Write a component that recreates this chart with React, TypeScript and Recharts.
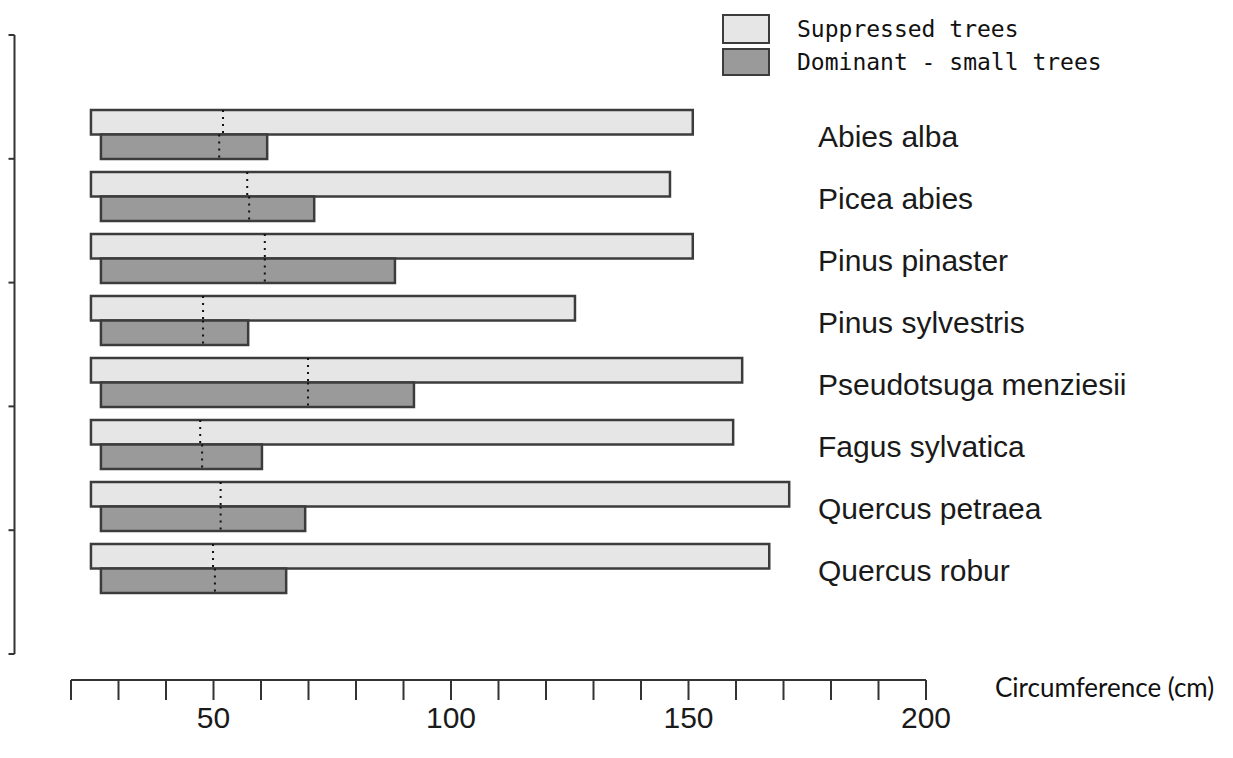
import React from 'react';
import { BarChart, Bar, XAxis, YAxis, Legend } from 'recharts';

const species = [
  'Abies alba',
  'Picea abies',
  'Pinus pinaster',
  'Pinus sylvestris',
  'Pseudotsuga menziesii',
  'Fagus sylvatica',
  'Quercus petraea',
  'Quercus robur',
];
const suppressedLow = [24.2, 24.2, 24.2, 24.2, 24.2, 24.2, 24.2, 24.2];
const suppressedHigh = [150.9, 146.1, 150.9, 126.1, 161.3, 159.4, 171.2, 167.0];
const suppressedMid = [52.0, 57.1, 60.8, 47.8, 69.9, 47.2, 51.5, 49.9];
const dominantLow = [26.3, 26.3, 26.3, 26.3, 26.3, 26.3, 26.3, 26.3];
const dominantHigh = [61.3, 71.2, 88.2, 57.3, 92.2, 60.2, 69.3, 65.3];
const dominantMid = [51.2, 57.5, 60.8, 47.8, 69.9, 47.6, 51.5, 50.3];
const xTicks = [20, 30, 40, 50, 60, 70, 80, 90, 100, 110, 120, 130, 140, 150, 160, 170, 180, 190, 200];
const xLabelled = [50, 100, 150, 200];
const leftDomain = [0, 7];
const leftTicks = [0, 1.4, 2.8, 4.2, 5.6, 7];
const seriesNames = ['Suppressed trees', 'Dominant - small trees'];

const data = species.map((name, i) => ({
  name,
  suppressed: [suppressedLow[i], suppressedHigh[i]],
  dominant: [dominantLow[i], dominantHigh[i]],
  suppressedMid: suppressedMid[i],
  dominantMid: dominantMid[i],
}));

const AXIS = '#333333';
const EDGE = '#3c3c3c';
const LIGHT = '#e6e6e6';
const DARK = '#9a9a9a';

const makeShape = (rangeKey: string, midKey: string) => (props: any) => {
  const { x, y, width, height, payload, fill } = props;
  const [lo, hi] = payload[rangeKey];
  const mx = x + ((payload[midKey] - lo) / (hi - lo)) * width;
  return (
    <g>
      <rect x={x} y={y} width={width} height={height} fill={fill} stroke={EDGE} strokeWidth={2.5} />
      <line x1={mx} x2={mx} y1={y} y2={y + height} stroke="#111" strokeWidth={2} strokeDasharray="2 5" />
    </g>
  );
};

const SpeciesTick = (props: any) => {
  const { x, y, payload } = props;
  return (
    <text x={x - 108} y={y} dy="0.44em" textAnchor="start" fill="#1a1a1a"
      style={{ fontFamily: '"Liberation Sans", Arial, sans-serif', fontSize: 30 }}>
      {payload.value}
    </text>
  );
};

const EmptyTick = () => <g />;

const AxisTitle = (props: any) => {
  const vb = props.viewBox || {};
  return (
    <text x={vb.x + vb.width + 69} y={vb.y + 8} dy="0.35em" textAnchor="start" fill="#111"
      style={{ fontFamily: 'Lato, "Open Sans", sans-serif', fontSize: 26 }}>
      Circumference (cm)
    </text>
  );
};

const LegendContent = (props: any) => {
  const items = [...(props.payload || [])].sort(
    (a: any, b: any) => seriesNames.indexOf(a.value) - seriesNames.indexOf(b.value)
  );
  return (
    <div style={{ display: 'flex', flexDirection: 'column' }}>
      {items.map((it: any, i: number) => (
        <div key={i} style={{ display: 'flex', alignItems: 'center', height: i === 0 ? 38 : 28 }}>
          <div style={{ width: 44, height: i === 0 ? 26 : 24, background: it.color, border: `2px solid ${EDGE}`, boxSizing: 'content-box' }} />
          <span style={{ marginLeft: 27, fontFamily: '"DejaVu Sans Mono", monospace', fontSize: 23, color: '#111', lineHeight: 1 }}>
            {it.value}
          </span>
        </div>
      ))}
    </div>
  );
};

export default function App() {
  return (
    <div style={{ position: 'absolute', left: 0, top: 0, background: '#fff' }}>
      <BarChart
        width={1233}
        height={758}
        data={data}
        layout="vertical"
        margin={{ top: 35, right: 0, bottom: 0, left: 0 }}
        barGap={0}
        barSize={24.5}
      >
        <XAxis xAxisId="a_spacer" type="number" domain={[20, 200]} height={26} allowDataOverflow
          axisLine={false} tick={false} tickLine={false} />
        <XAxis xAxisId="b_main" type="number" domain={[20, 200]} ticks={xTicks} interval={0}
          height={78} tickSize={20} tickMargin={7} allowDataOverflow
          tickFormatter={(v: number) => (xLabelled.includes(v) ? String(v) : '')}
          axisLine={{ stroke: AXIS, strokeWidth: 2 }} tickLine={{ stroke: AXIS, strokeWidth: 2 }}
          tick={{ fill: '#1a1a1a', fontSize: 30, fontFamily: '"Liberation Sans", Arial, sans-serif' }}
          label={(p: any) => <AxisTitle {...p} />} />
        <YAxis yAxisId="a_pad" type="number" domain={leftDomain} width={56.5} allowDataOverflow
          axisLine={false} tick={false} tickLine={false} />
        <YAxis yAxisId="b_left" type="number" domain={leftDomain} ticks={leftTicks} interval={0} width={14.5}
          allowDataOverflow tick={<EmptyTick />} tickSize={6} axisLine={{ stroke: AXIS, strokeWidth: 2 }}
          tickLine={{ stroke: AXIS, strokeWidth: 2 }} />
        <YAxis yAxisId="cat" type="category" dataKey="name" orientation="right" width={307}
          axisLine={false} tickLine={false} tickSize={0} tickMargin={0} interval={0}
          padding={{ top: 68, bottom: 55 }} tick={<SpeciesTick />} />
        <Legend layout="horizontal" verticalAlign="middle" align="center"
          wrapperStyle={{ left: 722, top: 10, width: 480, height: 70 }}
          content={<LegendContent />} />
        <Bar xAxisId="b_main" yAxisId="cat" dataKey="suppressed" name={seriesNames[0]} fill={LIGHT}
          isAnimationActive={false} shape={makeShape('suppressed', 'suppressedMid')} />
        <Bar xAxisId="b_main" yAxisId="cat" dataKey="dominant" name={seriesNames[1]} fill={DARK}
          isAnimationActive={false} shape={makeShape('dominant', 'dominantMid')} />
      </BarChart>
    </div>
  );
}
